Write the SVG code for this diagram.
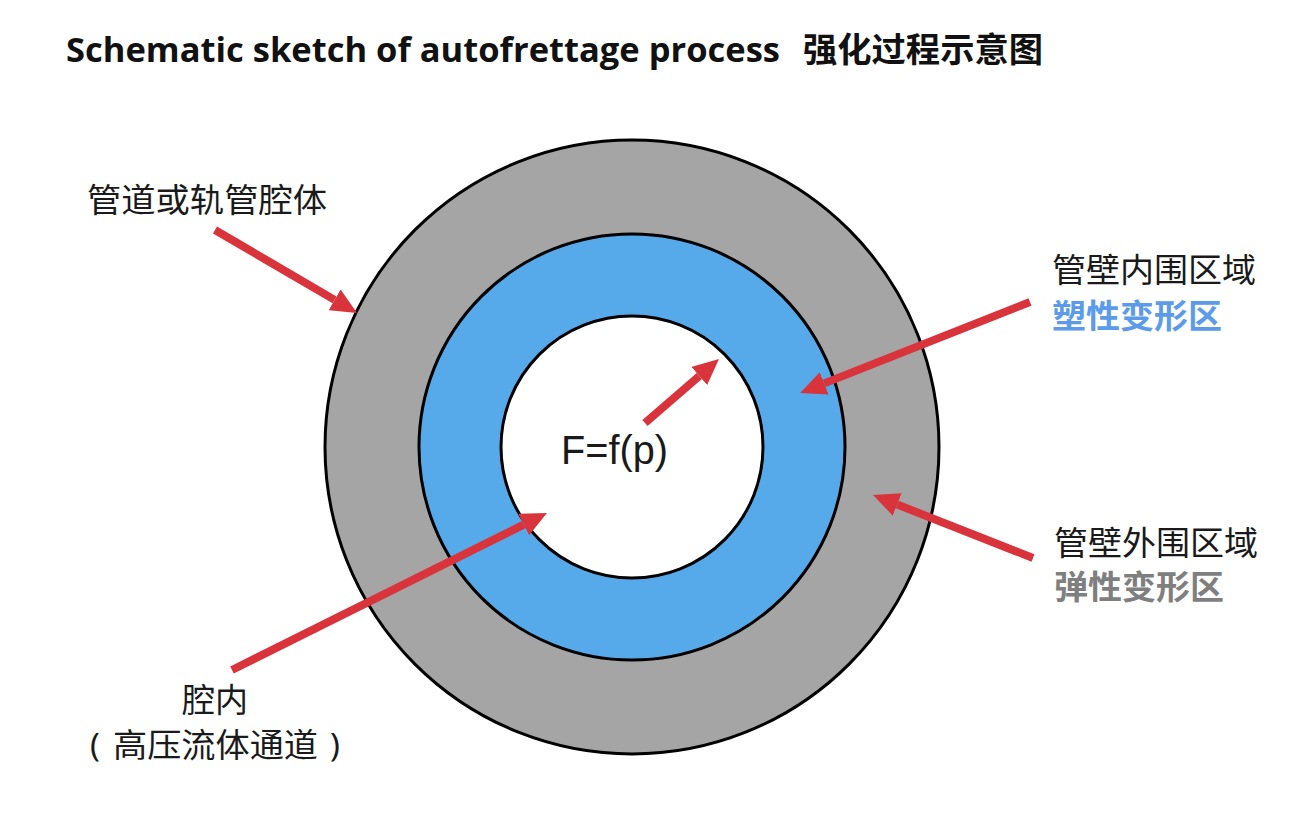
<svg xmlns="http://www.w3.org/2000/svg" width="1298" height="824" viewBox="0 0 1298 824">
<style>
.title{font-family:"Open Sans","Liberation Sans","Noto Sans CJK SC",sans-serif;font-weight:bold;font-size:34px;fill:#111}
.cn{font-family:"Noto Sans CJK SC",sans-serif;font-size:33px;fill:#1a1a1a}
.cnb{font-family:"Noto Sans CJK SC",sans-serif;font-size:33px;font-weight:bold}
.paren{font-family:"Noto Sans","Noto Sans CJK SC",sans-serif;font-size:33px;fill:#1a1a1a}
.formula{font-family:"Liberation Sans","Open Sans",sans-serif;font-size:40px;fill:#1a1a1a}
.ring{stroke:#000;stroke-width:3}
.arrow{stroke:#d9343c;stroke-width:8;fill:none;marker-end:url(#head)}
</style>
<defs>
<marker id="head" markerUnits="userSpaceOnUse" markerWidth="26" markerHeight="24" refX="0" refY="12" orient="auto" viewBox="0 0 26 24">
<path d="M0,0 L26,12 L0,24 z" fill="#d9343c"/>
</marker>
</defs>
<rect width="1298" height="824" fill="#fff"/>
<g id="title">
<text class="title" x="66" y="62" textLength="714" lengthAdjust="spacingAndGlyphs">Schematic sketch of autofrettage process</text>
<text class="title" x="803" y="62" font-family="Noto Sans CJK SC" textLength="240" lengthAdjust="spacingAndGlyphs">强化过程示意图</text>
</g>
<g id="pipe-outer"><circle class="ring" cx="632" cy="447" r="307" fill="#a5a5a5"/></g>
<g id="pipe-inner-wall"><circle class="ring" cx="632" cy="447" r="213" fill="#57aae9"/></g>
<g id="cavity"><circle class="ring" cx="632" cy="447" r="131" fill="#fff"/></g>
<g id="formula"><text class="formula" x="561" y="464" textLength="107" lengthAdjust="spacingAndGlyphs">F=f(p)</text></g>
<g id="label-pipe"><text class="cn" x="87" y="212" textLength="240" lengthAdjust="spacingAndGlyphs">管道或轨管腔体</text></g>
<g id="label-inner-zone">
<text class="cn" x="1052" y="282" textLength="204" lengthAdjust="spacingAndGlyphs">管壁内围区域</text>
<text class="cnb" x="1052" y="328" fill="#5b9bea" textLength="170" lengthAdjust="spacingAndGlyphs">塑性变形区</text>
</g>
<g id="label-outer-zone">
<text class="cn" x="1054" y="555" textLength="204" lengthAdjust="spacingAndGlyphs">管壁外围区域</text>
<text class="cnb" x="1054" y="599" fill="#7f7f7f" textLength="170" lengthAdjust="spacingAndGlyphs">弹性变形区</text>
</g>
<g id="label-cavity">
<text class="cn" x="182" y="712" textLength="66" lengthAdjust="spacingAndGlyphs">腔内</text>
<text class="cn" x="88" y="757"><tspan class="paren" x="90">(</tspan><tspan x="113" textLength="205" lengthAdjust="spacingAndGlyphs">高压流体通道</tspan><tspan class="paren" x="330">)</tspan></text>
</g>
<g id="connectors">
<line class="arrow" x1="215" y1="230" x2="334.6" y2="299.9"/>
<line class="arrow" x1="645" y1="423" x2="699.3" y2="376.0"/>
<line class="arrow" x1="1030" y1="302" x2="824.2" y2="383.4"/>
<line class="arrow" x1="1033" y1="558" x2="897.2" y2="504.5"/>
<line class="arrow" x1="232" y1="670" x2="523.7" y2="524.6"/>
</g>
</svg>
